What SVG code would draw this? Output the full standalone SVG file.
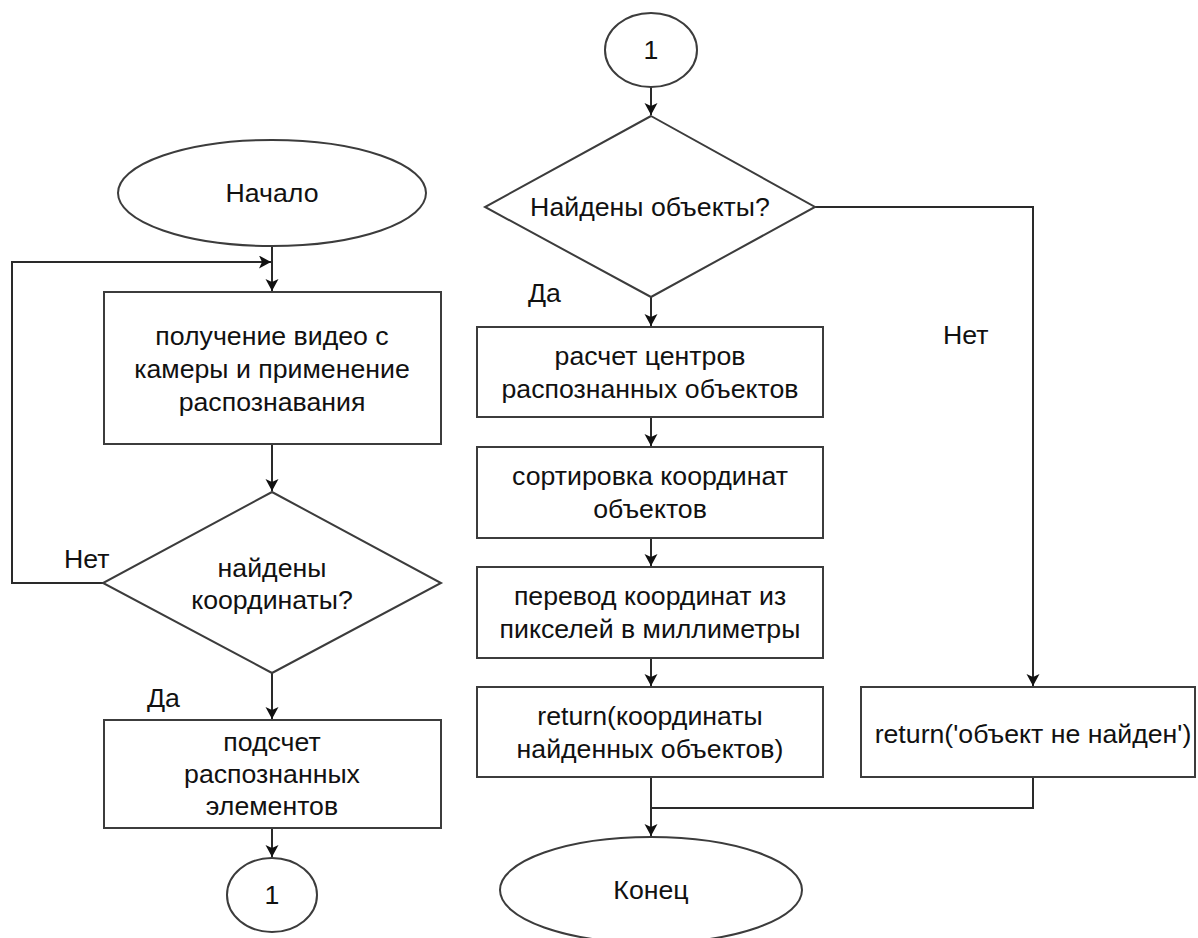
<svg xmlns="http://www.w3.org/2000/svg" width="1198" height="938" viewBox="0 0 1198 938">
<style>
.s{fill:#fff;stroke:#3c3c3c;stroke-width:2}
.c{fill:none;stroke:#2a2a2a;stroke-width:2}
.t{font-family:"Liberation Sans",Arial,sans-serif;font-size:26.7px;fill:#111;text-anchor:middle}
.l{font-family:"Liberation Sans",Arial,sans-serif;font-size:26.7px;fill:#111}
</style>
<defs>
<marker id="a" markerUnits="userSpaceOnUse" markerWidth="14" markerHeight="14" refX="12" refY="6.5" orient="auto">
<path d="M0,0 L12,6.5 L0,13 L3,6.5 Z" fill="#111"/>
</marker>
</defs>
<rect width="1198" height="938" fill="#fff"/>
<g id="connectors">
<line class="c" x1="272" y1="246" x2="272" y2="291" marker-end="url(#a)"/>
<polyline class="c" points="103,583 12,583 12,262 271,262" marker-end="url(#a)"/>
<line class="c" x1="272" y1="444" x2="272" y2="491" marker-end="url(#a)"/>
<line class="c" x1="272" y1="673" x2="272" y2="719" marker-end="url(#a)"/>
<line class="c" x1="272" y1="828" x2="272" y2="857" marker-end="url(#a)"/>
<line class="c" x1="651" y1="87" x2="651" y2="115" marker-end="url(#a)"/>
<line class="c" x1="651" y1="297" x2="651" y2="326" marker-end="url(#a)"/>
<line class="c" x1="651" y1="417" x2="651" y2="446" marker-end="url(#a)"/>
<line class="c" x1="651" y1="538" x2="651" y2="566" marker-end="url(#a)"/>
<line class="c" x1="651" y1="658" x2="651" y2="686" marker-end="url(#a)"/>
<polyline class="c" points="815,207 1033,207 1033,686" marker-end="url(#a)"/>
<line class="c" x1="651" y1="777" x2="651" y2="836" marker-end="url(#a)"/>
<polyline class="c" points="1033,777 1033,808 651,808"/>
<text class="l" x="64" y="568">Нет</text>
<text class="l" x="147" y="707">Да</text>
<text class="l" x="528" y="302">Да</text>
<text class="l" x="943" y="344">Нет</text>
</g>
<g id="start">
<ellipse class="s" cx="272" cy="193" rx="154" ry="53"/>
<text class="t" x="272" y="202">Начало</text>
</g>
<g id="capture">
<rect class="s" x="104" y="292" width="337" height="152"/>
<text class="t" x="272" y="345">получение видео с</text>
<text class="t" x="272" y="378">камеры и применение</text>
<text class="t" x="272" y="411">распознавания</text>
</g>
<g id="found-coords">
<polygon class="s" points="272,492 441,583 272,673 103,583"/>
<text class="t" x="272" y="577">найдены</text>
<text class="t" x="272" y="609">координаты?</text>
</g>
<g id="count">
<rect class="s" x="104" y="720" width="337" height="108"/>
<text class="t" x="272" y="751">подсчет</text>
<text class="t" x="272" y="783">распознанных</text>
<text class="t" x="272" y="815">элементов</text>
</g>
<g id="conn-out">
<ellipse class="s" cx="272" cy="895" rx="45" ry="37"/>
<text class="t" x="272" y="904">1</text>
</g>
<g id="conn-in">
<ellipse class="s" cx="651" cy="50" rx="46" ry="37"/>
<text class="t" x="651" y="59">1</text>
</g>
<g id="found-objects">
<polygon class="s" points="651,116 815,207 651,297 485,207"/>
<text class="t" x="650" y="216">Найдены объекты?</text>
</g>
<g id="centers">
<rect class="s" x="477" y="327" width="346" height="90"/>
<text class="t" x="650" y="365">расчет центров</text>
<text class="t" x="650" y="398">распознанных объектов</text>
</g>
<g id="sort">
<rect class="s" x="477" y="447" width="346" height="91"/>
<text class="t" x="650" y="485">сортировка координат</text>
<text class="t" x="650" y="518">объектов</text>
</g>
<g id="convert">
<rect class="s" x="477" y="567" width="346" height="91"/>
<text class="t" x="650" y="605">перевод координат из</text>
<text class="t" x="650" y="638">пикселей в миллиметры</text>
</g>
<g id="return-found">
<rect class="s" x="477" y="687" width="346" height="90"/>
<text class="t" x="650" y="725">return(координаты</text>
<text class="t" x="650" y="758">найденных объектов)</text>
</g>
<g id="return-notfound">
<rect class="s" x="861" y="687" width="334" height="90"/>
<text class="t" x="1033" y="743">return('объект не найден')</text>
</g>
<g id="end">
<ellipse class="s" cx="651" cy="890" rx="151" ry="53"/>
<text class="t" x="651" y="899">Конец</text>
</g>
</svg>
